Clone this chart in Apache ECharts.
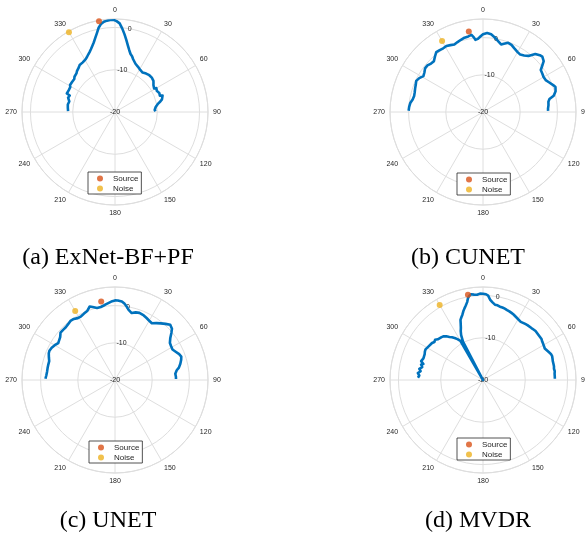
<!DOCTYPE html>
<html><head><meta charset="utf-8">
<script src="https://cdn.jsdelivr.net/npm/echarts@6/dist/echarts.min.js"></script>
<style>html,body{margin:0;padding:0;background:#fff}#c{width:585px;height:537px}</style>
</head><body><div id="c"></div>
<script>
// ---- tick labels ----
const angleTicks = [0,30,60,90,120,150,180,210,240,270,300,330];
const radiusTicks = [-20,-10,0];
const captions = ['(a) ExNet-BF+PF','(b) CUNET','(c) UNET','(d) MVDR'];
const legendNames = ['Source','Noise'];
const sourceAngle = 350, noiseAngle = 330;

// ---- (a) ExNet-BF+PF ----
const angA = [-89,-87,-85,-83,-81,-79,-77,-75,-73,-71,-70,-69,-68,-67,-65,-63,-61,-59,-57,-55,-53,-51,-49,-47,-45,-43,-41,-39,-37,-35,-33,-31,-29,-27,-25,-23,-21,-19,-17,-15,-13,-11,-9,-7,-5,-3,-1,1,3,5,7,9,11,13,15,17,19,21,23,25,27,29,31,33,35,37,39,41,43,45,47,49,51,53,55,57,59,60,61,62,63,65,67,69,70,71,72,73,75,77,79,81,83,85,87,89];
const valA = [-8.9,-9.2,-8.8,-9.1,-8.7,-9.0,-8.9,-8.9,-8.4,-8.3,-8.6,-7.8,-7.4,-7.6,-7.9,-7.7,-7.9,-7.6,-7.8,-7.6,-7.5,-7.6,-7.3,-7.3,-7.1,-6.8,-6.6,-6.4,-6.1,-6.0,-6.0,-5.8,-5.7,-5.4,-5.0,-4.6,-4.1,-3.5,-2.8,-1.9,-0.9,0.3,1.1,1.5,1.7,1.8,1.8,1.5,1.0,-0.2,-1.5,-2.8,-4.0,-5.0,-5.8,-6.2,-6.8,-7.1,-7.6,-7.7,-8.0,-8.2,-8.4,-8.5,-8.6,-8.4,-8.3,-8.2,-8.1,-8.3,-8.1,-8.2,-8.3,-8.6,-8.9,-9.1,-9.2,-8.7,-9.0,-8.6,-8.9,-8.8,-8.6,-8.4,-8.7,-8.1,-8.4,-8.1,-8.5,-9.0,-9.6,-10.0,-10.3,-10.5,-10.6,-10.4];
const markA = [1.8, 1.8];   // source, noise radius (dB)

// ---- (b) CUNET ----
const angB = [-89,-86,-83,-80,-77,-74,-71,-68,-65,-62,-59,-56,-53,-50,-47,-44,-41,-38,-35,-32,-29,-26,-23,-20,-17,-14,-11,-8.5,-7,-6,-4,-2,0,3,6,9,12,15,17,20,23,26,30,33,36,39,42,45,47,50,52,54,57,60,63,66,69,71,74,77,79,81,84,87,89];
const valB = [0.0,-0.1,-0.3,-0.8,-1.0,-0.9,-0.7,-0.5,-0.2,-0.6,-1.3,-1.0,-0.5,-0.5,-0.9,-1.0,-0.3,0.4,0.3,0.2,0.3,0.0,-0.3,0.0,0.3,0.6,0.7,0.95,0.2,-0.5,-0.3,0.3,0.9,1.25,1.0,0.3,-0.5,-1.2,-0.8,-0.2,-0.4,-0.9,-1.4,-1.6,-1.2,-0.6,1.0,1.6,1.8,1.3,0.2,-0.8,-1.0,-1.2,-1.1,-0.5,0.2,0.6,0.3,-0.5,-1.8,-2.2,-2.3,-2.5,-2.5];
const markB = [2.0, 2.0];

// ---- (c) UNET ----
const angC = [-89,-86,-83,-80,-77,-74,-71,-68,-66,-63,-60,-57,-55,-52,-49,-46,-43,-40,-37,-34,-31,-28,-25,-22,-19,-17,-14,-11,-9,-7,-5,-2,0,2,5,7,9,11,14,17,20,24,27,30,33,36,39,42,45,48,50,53,56,59,62,65,68,70.5,73,76,79,81,84,87,89];
const valC = [-1.3,-1.5,-1.6,-1.6,-1.6,-1.6,-1.2,-0.8,-0.7,-0.9,-1.3,-1.8,-1.9,-1.3,-0.6,-0.6,-0.6,-0.4,-0.1,-0.2,-0.6,-0.6,-0.3,0.0,0.9,0.5,-0.05,0.0,0.2,0.5,0.76,1.2,1.4,1.4,1.2,0.7,0.0,-0.8,-1.45,-1.0,-0.8,-1.0,-1.3,-1.6,-1.8,-1.1,-0.4,0.3,1.0,0.6,-0.2,-1.4,-2.2,-2.4,-2.5,-2.0,-1.4,-1.1,-1.4,-1.9,-2.5,-3.2,-3.7,-3.6,-3.6];
const markC = [1.4, 1.4];

// ---- (d) MVDR ----
const angD = [-88,-87,-86,-85,-84,-83,-82,-81,-80,-79,-78,-77,-76,-75,-74,-73,-72,-70,-68,-66,-64,-62,-60,-58,-56,-54,-52,-50,-48,-46,-44,-42,-40,-38,-36,-34,-32,-30,-29,-28.3,-27.5,-26,-24.5,-23,-21.5,-20.5,-19,-17.5,-16,-14.5,-13,-11.5,-10.5,-9.5,-8,-6,-4,-2,0,2,3.5,5,7,9,11,13,15,17,19,21,23,25,27,29,31,33,35,37,39,41,43,45,47,49,51,53,55,57,59,61,63,65,67,69,71,73,75,77,79,81,83,85,87,89];
const valD = [-4.6,-4.4,-4.9,-4.6,-4.5,-4.9,-5.1,-4.6,-4.7,-5.1,-5.3,-4.8,-4.9,-5.4,-5.2,-4.7,-4.5,-5.0,-5.1,-4.9,-4.7,-4.6,-4.7,-4.9,-5.0,-5.1,-5.4,-5.2,-5.6,-5.7,-5.9,-6.1,-6.5,-7.1,-7.5,-8.0,-8.6,-9.3,-9.8,-20,-9.75,-8.2,-7.3,-6.6,-5.6,-4.8,-4.3,-3.8,-3.1,-2.5,-1.9,-1.2,-0.4,0.1,0.5,0.3,0.2,0.45,0.4,0.3,0.0,-0.9,-1.5,-1.95,-2.0,-2.2,-2.25,-2.35,-2.5,-2.6,-2.75,-2.9,-3.1,-3.3,-3.4,-3.6,-3.5,-3.4,-3.3,-3.3,-3.2,-3.1,-3.0,-3.0,-3.1,-3.0,-3.1,-3.3,-3.4,-3.5,-3.6,-3.5,-3.1,-2.8,-2.7,-2.8,-2.9,-2.9,-2.9,-3.0,-2.9,-3.0,-3.0,-3.0];
const markD = [0.5, 0.5];

const panels = [
  {ang: angA, val: valA, mark: markA, rmax: 2, center: [115,112], legendPos: [88,172], capPos: [108,258]},
  {ang: angB, val: valB, mark: markB, rmax: 5, center: [483,112], legendPos: [457,173], capPos: [468,258]},
  {ang: angC, val: valC, mark: markC, rmax: 5, center: [115,380], legendPos: [89,441], capPos: [108,521]},
  {ang: angD, val: valD, mark: markD, rmax: 2, center: [483,380], legendPos: [457,438], capPos: [478,521]}
];

const FONT = 'Liberation Sans';
const gridCol = '#dedede';
const polar = [], angleAxis = [], radiusAxis = [], series = [], legend = [], graphic = [];
const toDeg = a => (a + 360) % 360;

panels.forEach((p, i) => {
  polar.push({center: p.center, radius: 93});
  angleAxis.push({
    polarIndex: i, type: 'value', min: 0, max: 360, interval: 30,
    startAngle: 90, clockwise: true,
    axisLine: {show: true, lineStyle: {color: gridCol, width: 1}},
    axisTick: {show: false},
    splitLine: {show: true, lineStyle: {color: gridCol, width: 1}},
    axisLabel: {show: true, margin: 5, fontSize: 7, fontFamily: FONT, color: '#262626',
      formatter: v => (angleTicks.indexOf(v) >= 0 ? String(v) : '')}
  });
  radiusAxis.push({
    polarIndex: i, type: 'value', min: radiusTicks[0], max: p.rmax, interval: 10,
    axisLine: {show: false}, axisTick: {show: false}, axisLabel: {show: false},
    splitLine: {show: true, lineStyle: {color: gridCol, width: 1}}
  });
  // radius tick labels (placed on each ring, 10 degrees clockwise of the top)
  series.push({
    type: 'scatter', coordinateSystem: 'polar', polarIndex: i, silent: true, z: 1,
    symbol: 'circle', symbolSize: 1, itemStyle: {color: 'rgba(255,255,255,0)'},
    data: radiusTicks.map(r => [r, 10]),
    label: {show: true, position: 'inside', fontSize: 7, fontFamily: FONT, color: '#262626',
      opacity: 1, formatter: q => String(q.value[0])}
  });
  series.push({
    type: 'line', coordinateSystem: 'polar', polarIndex: i, silent: true, z: 3,
    showSymbol: false, symbol: 'none',
    lineStyle: {color: '#0072BD', width: 2.6, join: 'round'},
    data: p.ang.map((a, k) => [p.val[k], toDeg(a)])
  });
  series.push({
    name: legendNames[0], type: 'scatter', coordinateSystem: 'polar', polarIndex: i, z: 4,
    symbol: 'circle', symbolSize: 6, itemStyle: {color: '#D95319'},
    data: [[p.mark[0], sourceAngle]]
  });
  series.push({
    name: legendNames[1], type: 'scatter', coordinateSystem: 'polar', polarIndex: i, z: 4,
    symbol: 'circle', symbolSize: 6, itemStyle: {color: '#EDB120'},
    data: [[p.mark[1], noiseAngle]]
  });
  legend.push({
    data: legendNames, orient: 'vertical', left: p.legendPos[0], top: p.legendPos[1],
    icon: 'circle', itemWidth: 6, itemHeight: 6, itemGap: 1,
    padding: [2, 3, 1, 9], borderColor: '#262626', borderWidth: 0.8, backgroundColor: '#fff',
    selectedMode: false,
    textStyle: {fontSize: 8, fontFamily: FONT, color: '#262626', lineHeight: 9, padding: [0,0,0,5]}
  });
  graphic.push({
    type: 'text', x: p.capPos[0], y: p.capPos[1],
    style: {text: captions[i], font: '24px "Liberation Serif"', fill: '#000',
      textAlign: 'center', textVerticalAlign: 'middle'}
  });
});

const chart = echarts.init(document.getElementById('c'), null, {renderer: 'canvas'});
chart.setOption({
  animation: false,
  backgroundColor: '#fff',
  polar, angleAxis, radiusAxis, series, legend, graphic
});
</script>
</body></html>
